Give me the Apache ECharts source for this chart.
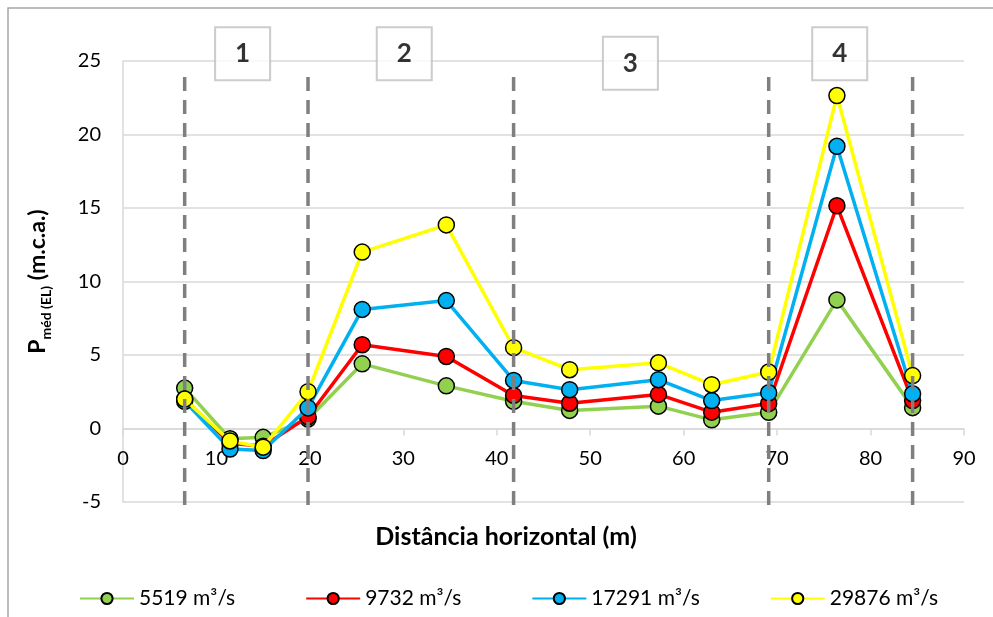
<!DOCTYPE html>
<html>
<head>
<meta charset="utf-8">
<script src="https://cdn.jsdelivr.net/npm/echarts@6/dist/echarts.min.js"></script>
<style>
  html, body { margin: 0; padding: 0; background: #fff; }
  #chart { width: 993px; height: 617px; }
</style>
</head>
<body>
<div id="chart"></div>
<script>
// Horizontal distance of each measuring point (m)
const distances = [6.6, 11.45, 15.0, 19.8, 25.6, 34.6, 41.8, 47.8, 57.3, 63.0, 69.1, 76.4, 84.5];

// Mean pressure P_méd (EL) in m.c.a. for each discharge
const flow5519  = [2.75, -0.7, -0.6, 0.65, 4.4, 2.9, 1.85, 1.23, 1.52, 0.59, 1.1, 8.75, 1.42];
const flow9732  = [2.0, -1.0, -1.2, 0.8, 5.7, 4.9, 2.25, 1.72, 2.32, 1.11, 1.7, 15.15, 1.9];
const flow17291 = [1.85, -1.4, -1.5, 1.4, 8.1, 8.7, 3.27, 2.64, 3.32, 1.9, 2.43, 19.2, 2.36];
const flow29876 = [2.0, -0.85, -1.27, 2.5, 12.0, 13.85, 5.5, 4.0, 4.47, 2.98, 3.84, 22.65, 3.6];

const seriesNames = ['5519 m³/s', '9732 m³/s', '17291 m³/s', '29876 m³/s'];
const seriesColors = ['#92d050', '#ff0000', '#00b0f0', '#ffff00'];

// Zone boundaries (dashed verticals) and zone tags
const zoneBounds = [6.6, 19.8, 41.8, 69.1, 84.5];
const zoneBoundSpan = [-5.2, 24.5];
const zoneTags = ['1', '2', '3', '4'];
const zoneTagX = [12.8, 30.1, 54.3, 76.7];
const zoneTagY = [25.5, 25.5, 24.85, 25.5];

const xTicks = { min: 0, max: 90, interval: 10 };
const yTicks = { min: -5, max: 25, interval: 5 };

const FONT = 'Lato, "Open Sans", sans-serif';

const chart = echarts.init(document.getElementById('chart'), null, { renderer: 'canvas' });

const values = [flow5519, flow9732, flow17291, flow29876];
const flowSeries = values.map((vals, i) => ({
  name: seriesNames[i],
  type: 'line',
  data: vals.map((v, k) => [distances[k], v]),
  symbol: 'circle',
  symbolSize: 16,
  lineStyle: { color: seriesColors[i], width: 3.5 },
  itemStyle: { color: seriesColors[i], borderColor: '#000', borderWidth: 1.5 },
  z: 2 + i * 0.1,
  animation: false
}));

const boundSeries = zoneBounds.map((x, i) => ({
  name: 'zona-' + i,
  type: 'line',
  data: zoneBoundSpan.map(y => [x, y]),
  symbol: 'none',
  silent: true,
  clip: false,
  lineStyle: { color: '#7f7f7f', width: 3.5, type: [14, 9] },
  z: 5,
  animation: false
}));

const tagSeries = {
  name: 'zonas',
  type: 'scatter',
  data: zoneTags.map((t, i) => [zoneTagX[i], zoneTagY[i]]),
  symbol: 'rect',
  symbolSize: [55, 53],
  clip: false,
  silent: true,
  itemStyle: { color: '#fff', borderColor: '#bfbfbf', borderWidth: 2 },
  label: {
    show: true, position: 'inside',
    formatter: p => zoneTags[p.dataIndex],
    fontFamily: FONT, fontSize: 26, fontWeight: 'bold', color: '#000'
  },
  z: 6,
  animation: false
};

chart.setOption({
  animation: false,
  backgroundColor: '#fff',
  grid: { left: 123, right: 29, top: 61, bottom: 115 },
  xAxis: {
    type: 'value',
    min: xTicks.min, max: xTicks.max, interval: xTicks.interval,
    axisLine: { show: true, onZero: false, lineStyle: { color: '#d9d9d9', width: 1.5 } },
    axisTick: { show: true, length: 7, lineStyle: { color: '#d9d9d9', width: 1.5 } },
    axisLabel: { fontFamily: FONT, fontSize: 20, color: '#000', margin: 20 },
    splitLine: { show: false }
  },
  yAxis: {
    type: 'value',
    min: yTicks.min, max: yTicks.max, interval: yTicks.interval,
    axisLine: { show: true, onZero: false, lineStyle: { color: '#d9d9d9', width: 1.5 } },
    axisTick: { show: false },
    axisLabel: { fontFamily: FONT, fontSize: 20, color: '#000', margin: 22 },
    splitLine: { show: true, lineStyle: { color: '#d9d9d9', width: 1.5 } },
    name: '{p|P}{s|méd (EL)}{p| (m.c.a.)}',
    nameLocation: 'middle',
    nameRotate: 90,
    nameGap: 70,
    nameTextStyle: {
      color: '#000',
      rich: {
        p: { fontFamily: FONT, fontSize: 23, fontWeight: 'bold', color: '#000', lineHeight: 30 },
        s: { fontFamily: FONT, fontSize: 14, fontWeight: 'bold', color: '#000', lineHeight: 14, verticalAlign: 'bottom' }
      }
    }
  },
  legend: {
    data: seriesNames,
    left: 79,
    top: 588,
    padding: 0,
    itemWidth: 54,
    itemHeight: 14,
    itemGap: 70,
    textStyle: { fontFamily: FONT, fontSize: 21, color: '#000' }
  },
  graphic: [
    {
      type: 'rect',
      shape: { x: 8, y: 8, width: 1100, height: 800 },
      style: { fill: 'none', stroke: '#a6a6a6', lineWidth: 1.5 },
      silent: true, z: -1
    },
    {
      type: 'text',
      style: {
        x: 506, y: 537, text: 'Distância horizontal (m)',
        textAlign: 'center', textVerticalAlign: 'middle',
        font: 'bold 25px ' + FONT, fill: '#000'
      },
      silent: true
    }
  ],
  series: [...flowSeries, ...boundSeries, tagSeries]
});

// The horizontal axis (line, ticks, labels) sits on the zero level of the pressure scale
const zeroY = chart.convertToPixel({ yAxisIndex: 0 }, 0);
const floorY = chart.convertToPixel({ yAxisIndex: 0 }, yTicks.min);
chart.setOption({ xAxis: { offset: zeroY - floorY } });
</script>
</body>
</html>
